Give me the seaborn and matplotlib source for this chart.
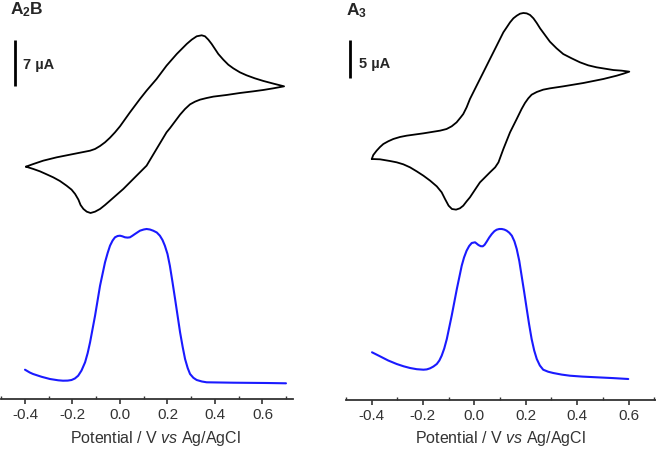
import numpy as np
import pandas as pd
import matplotlib
matplotlib.use("Agg")
import matplotlib.pyplot as plt
import seaborn as sns
from matplotlib.ticker import MultipleLocator

sns.set_theme(style="white")
plt.rcParams['font.family'] = ['Liberation Sans', 'DejaVu Sans']
plt.rcParams['mathtext.fontset'] = 'custom'
plt.rcParams['mathtext.rm'] = 'Liberation Sans'
plt.rcParams['mathtext.it'] = 'Liberation Sans:italic'
plt.rcParams['mathtext.bf'] = 'Liberation Sans:bold'

# ---------------- data ----------------
titles = [r"$\mathbf{A}_{\mathbf{2}}\mathbf{B}$", r"$\mathbf{A}_{\mathbf{3}}$"]
scale_labels = ["7 µA", "5 µA"]
scale_values = [7, 5]
xlabel = r"Potential / V $\it{vs}$ Ag/AgCl"
tick_values = [-0.4, -0.2, 0.0, 0.2, 0.4, 0.6]

# A2B cyclic voltammogram (V, µA): forward (anodic) branch then reverse branch
a2b_cv_E = [-0.396, -0.365, -0.323, -0.267, -0.196, -0.154, -0.126, -0.105, -0.084, -0.063,
            -0.042, -0.021, 0.000, 0.042, 0.084, 0.112, 0.154, 0.196, 0.239, 0.281,
            0.302, 0.323, 0.344, 0.358, 0.372, 0.386, 0.400, 0.414, 0.435, 0.456,
            0.477, 0.505, 0.533, 0.568, 0.604, 0.646, 0.691,
            0.646, 0.604, 0.561, 0.505, 0.449, 0.393, 0.365, 0.337, 0.316, 0.295,
            0.274, 0.253, 0.232, 0.211, 0.196, 0.154, 0.112, 0.070, 0.014, -0.042,
            -0.063, -0.084, -0.105, -0.124, -0.140, -0.154, -0.166, -0.175, -0.189, -0.204,
            -0.225, -0.253, -0.281, -0.309, -0.337, -0.365, -0.396]
a2b_cv_I = [-6.01, -5.61, -5.10, -4.60, -4.09, -3.79, -3.59, -3.33, -2.88, -2.32,
            -1.62, -0.81, 0.10, 2.22, 4.24, 5.51, 7.27, 9.29, 11.06, 12.58,
            13.23, 13.74, 13.89, 13.74, 13.23, 12.58, 11.82, 11.06, 10.20, 9.44,
            8.89, 8.28, 7.83, 7.37, 6.97, 6.57, 6.16,
            5.86, 5.61, 5.40, 5.15, 4.85, 4.60, 4.39, 4.14, 3.84, 3.43,
            2.73, 1.87, 0.86, -0.15, -0.81, -3.33, -5.86, -7.37, -9.39, -11.16,
            -11.82, -12.42, -12.83, -13.03, -12.83, -12.42, -11.82, -11.01, -10.15, -9.49,
            -8.89, -8.18, -7.63, -7.17, -6.72, -6.36, -6.01]

# A2B differential pulse voltammogram (V, a.u.)
a2b_dpv_E = [-0.400, -0.380, -0.366, -0.330, -0.295, -0.260, -0.240, -0.220, -0.204, -0.190,
             -0.176, -0.162, -0.147, -0.136, -0.126, -0.105, -0.084, -0.063, -0.052, -0.042,
             -0.031, -0.021, -0.010, 0.000, 0.010, 0.021, 0.032, 0.042, 0.052, 0.063,
             0.084, 0.100, 0.112, 0.126, 0.140, 0.155, 0.168, 0.179, 0.189, 0.200,
             0.210, 0.221, 0.232, 0.253, 0.264, 0.274, 0.285, 0.295, 0.309, 0.323,
             0.345, 0.365, 0.477, 0.617, 0.699]
a2b_dpv_I = [1.53, 1.25, 1.10, 0.82, 0.60, 0.47, 0.43, 0.44, 0.50, 0.65,
             0.93, 1.45, 2.27, 3.20, 4.27, 6.93, 9.93, 12.27, 13.20, 13.93,
             14.45, 14.77, 14.90, 14.93, 14.87, 14.77, 14.74, 14.77, 14.92, 15.10,
             15.43, 15.55, 15.60, 15.55, 15.43, 15.25, 14.93, 14.50, 13.93, 13.10,
             11.93, 10.30, 8.60, 5.27, 3.80, 2.60, 1.70, 1.10, 0.72, 0.50,
             0.35, 0.27, 0.23, 0.20, 0.17]

# A3 cyclic voltammogram (V, µA)
a3_cv_E = [-0.399, -0.393, -0.380, -0.367, -0.354, -0.335, -0.315, -0.289, -0.263, -0.198,
           -0.133, -0.108, -0.088, -0.069, -0.053, -0.043, -0.030, -0.017, 0.009, 0.035,
           0.061, 0.087, 0.113, 0.126, 0.139, 0.152, 0.165, 0.178, 0.191, 0.204,
           0.217, 0.230, 0.243, 0.256, 0.275, 0.294, 0.320, 0.346, 0.379, 0.411,
           0.443, 0.476, 0.541, 0.573, 0.603,
           0.580, 0.554, 0.502, 0.424, 0.346, 0.294, 0.268, 0.243, 0.223, 0.210,
           0.197, 0.184, 0.165, 0.139, 0.113, 0.094, 0.081, 0.061, 0.035, 0.022,
           0.009, -0.004, -0.017, -0.030, -0.043, -0.056, -0.071, -0.087, -0.100, -0.114,
           -0.127, -0.146, -0.172, -0.198, -0.224, -0.250, -0.276, -0.302, -0.328, -0.367,
           -0.399]
a3_cv_I = [-6.21, -5.69, -5.13, -4.66, -4.27, -3.92, -3.62, -3.36, -3.19, -2.89,
           -2.54, -2.33, -1.98, -1.47, -0.82, -0.39, 0.47, 1.55, 3.28, 5.00,
           6.73, 8.45, 10.18, 10.82, 11.47, 11.99, 12.33, 12.59, 12.68, 12.63,
           12.42, 11.99, 11.38, 10.69, 9.83, 8.97, 8.11, 7.37, 6.81, 6.30,
           5.91, 5.65, 5.30, 5.22, 5.09,
           4.83, 4.57, 4.14, 3.62, 3.19, 2.93, 2.76, 2.46, 2.11, 1.64,
           1.03, 0.26, -1.03, -2.76, -4.92, -6.64, -7.29, -7.93, -8.80, -9.23,
           -9.87, -10.52, -11.17, -11.69, -12.25, -12.59, -12.76, -12.68, -12.25, -11.38,
           -10.52, -9.75, -9.01, -8.37, -7.81, -7.29, -6.90, -6.64, -6.47, -6.25,
           -6.21]

# A3 differential pulse voltammogram (V, a.u.)
a3_dpv_E = [-0.398, -0.367, -0.335, -0.302, -0.275, -0.250, -0.224, -0.198, -0.185, -0.172,
            -0.159, -0.146, -0.136, -0.127, -0.117, -0.107, -0.088, -0.068, -0.049, -0.040,
            -0.030, -0.020, -0.010, 0.003, 0.016, 0.025, 0.033, 0.040, 0.048, 0.058,
            0.068, 0.078, 0.087, 0.097, 0.107, 0.117, 0.126, 0.136, 0.146, 0.156,
            0.165, 0.175, 0.184, 0.194, 0.204, 0.213, 0.223, 0.233, 0.243, 0.255,
            0.268, 0.287, 0.307, 0.340, 0.372, 0.420, 0.476, 0.540, 0.599]
a3_dpv_I = [2.87, 2.47, 2.05, 1.70, 1.47, 1.30, 1.18, 1.13, 1.16, 1.27,
            1.45, 1.70, 2.05, 2.53, 3.25, 4.20, 6.53, 9.20, 11.53, 12.35,
            13.03, 13.50, 13.80, 13.87, 13.60, 13.48, 13.47, 13.62, 13.93, 14.35,
            14.70, 14.98, 15.13, 15.20, 15.20, 15.14, 15.03, 14.83, 14.53, 13.97,
            13.20, 12.00, 10.53, 8.90, 7.20, 5.70, 4.20, 3.05, 2.20, 1.55,
            1.13, 0.93, 0.80, 0.64, 0.53, 0.44, 0.37, 0.29, 0.20]

# ---------------- layout ----------------
W, H = 656, 452
fig = plt.figure(figsize=(W / 100, H / 100), dpi=100)

def frac(left, top, width, height):
    return [left / W, (H - top - height) / H, width / W, height / H]

panels = [
    dict(cv=(a2b_cv_E, a2b_cv_I), dpv=(a2b_dpv_E, a2b_dpv_I), xlim=(-0.5, 0.73),
         left=1.25, width=292.1, cv_ylim=(-16.97, 19.39), dpv_ylim=(-1.4, 18.6),
         dpv_top=200, dpv_h=200, bar_x=-0.443, bar_top=13.23, lab_x=-0.408, lab_y=9.55,
         title_px=(10, 10), xlabel_px=(155.5, 439)),
    dict(cv=(a3_cv_E, a3_cv_I), dpv=(a3_dpv_E, a3_dpv_I), xlim=(-0.5, 0.71),
         left=345.8, width=311.0, cv_ylim=(-16.56, 14.49), dpv_ylim=(-1.9, 18.2),
         dpv_top=200, dpv_h=201, bar_x=-0.484, bar_top=9.22, lab_x=-0.449, lab_y=6.15,
         title_px=(346, 11), xlabel_px=(500.5, 439)),
]

for i, p in enumerate(panels):
    # CV axes (no frame)
    ax_cv = fig.add_axes(frac(p['left'], 0, p['width'], 240))
    df_cv = pd.DataFrame({'E': p['cv'][0], 'I': p['cv'][1]})
    sns.lineplot(data=df_cv, x='E', y='I', sort=False, estimator=None,
                 color='black', lw=1.3, ax=ax_cv)
    for ln in ax_cv.lines:
        ln.set_solid_joinstyle('round')
        ln.set_solid_capstyle('round')
    ax_cv.set_xlim(*p['xlim'])
    ax_cv.set_ylim(*p['cv_ylim'])
    ax_cv.axis('off')
    # scale bar
    ax_cv.plot([p['bar_x'], p['bar_x']], [p['bar_top'], p['bar_top'] - scale_values[i]],
               color='black', lw=2.0, solid_capstyle='butt')
    ax_cv.text(p['lab_x'], p['lab_y'], scale_labels[i], fontsize=10.5,
               fontweight='bold', ha='left', va='center')

    # DPV axes
    ax_d = fig.add_axes(frac(p['left'], p['dpv_top'], p['width'], p['dpv_h']))
    ax_d.patch.set_alpha(0)
    df_d = pd.DataFrame({'E': p['dpv'][0], 'I': p['dpv'][1]})
    sns.lineplot(data=df_d, x='E', y='I', sort=False, estimator=None,
                 color='#1a1aff', lw=1.5, ax=ax_d)
    for ln in ax_d.lines:
        ln.set_solid_joinstyle('round')
        ln.set_solid_capstyle('round')
    ax_d.set_xlim(*p['xlim'])
    ax_d.set_ylim(*p['dpv_ylim'])
    for s in ['top', 'left', 'right']:
        ax_d.spines[s].set_visible(False)
    ax_d.spines['bottom'].set_color('#333333')
    ax_d.spines['bottom'].set_linewidth(1.3)
    ax_d.set_yticks([])
    ax_d.set_xticks(tick_values)
    ax_d.set_xticklabels([f"{v:.1f}" for v in tick_values])
    ax_d.xaxis.set_minor_locator(MultipleLocator(0.1))
    ax_d.tick_params(axis='x', which='major', direction='out', length=3.5, width=1.2,
                     color='#333333', labelsize=11, labelcolor='#333333', pad=2.5, bottom=True)
    ax_d.tick_params(axis='x', which='minor', direction='in', length=2, width=1.0,
                     color='#333333', bottom=True)
    ax_d.set_xlabel('')
    ax_d.set_ylabel('')

    fig.text(p['xlabel_px'][0] / W, 1 - p['xlabel_px'][1] / H, xlabel, fontsize=11.5,
             ha='center', va='center', color='#333333')
    fig.text(p['title_px'][0] / W, 1 - p['title_px'][1] / H, titles[i], fontsize=12.5,
             ha='left', va='center')

fig.savefig('out.png', dpi=100)
